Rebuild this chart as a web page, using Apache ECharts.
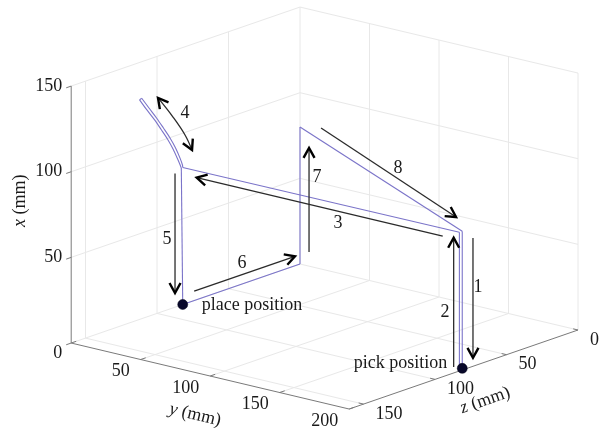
<!DOCTYPE html>
<html>
<head>
<meta charset="utf-8">
<script src="https://cdn.jsdelivr.net/npm/echarts@6/dist/echarts.min.js"></script>
<style>
  html, body { margin: 0; padding: 0; background: #ffffff; }
  #chart { width: 606px; height: 432px; }
</style>
</head>
<body>
<div id="chart"></div>
<script>
// ---- axis extents and tick values (mm) ----
const xTicks = [0, 50, 100, 150];
const yTicks = [0, 50, 100, 150, 200];
const zTicks = [0, 50, 100, 150];
const xRange = [0, 150];
const yRange = [0, 200];
const zRange = [0, 160];

// ---- trajectory, points are [x, y, z] in mm ----
const moveToPick   = [[80, 0, 0], [80, 198, 79]];                       // step 8
const descendPick  = [[80, 198, 79], [0, 198, 79]];                     // step 1
const ascendPick   = [[0, 198, 79], [0, 198, 81], [80, 198, 81]];       // step 2
const transfer     = [[80, 198, 81], [80, 0, 82]];                      // step 3
const rotateOut    = [[80, 0, 82], [81.5, 0, 82.2], [86, 0, 83.9], [93, 0, 87.1], [99.8, 0, 90.9],
                      [106.9, 0, 95.5], [114, 0, 100.2], [121.5, 0, 105.6], [128.7, 0, 110.7]];   // step 4
const rotateTurn   = [[128.7, 0, 110.7], [128.2, 0, 112.2]];
const rotateBack   = [[128.2, 0, 112.2], [121, 0, 107.2], [113.6, 0, 101.8], [106.5, 0, 97.1], [99.4, 0, 92.5],
                      [92.6, 0, 88.7], [85.8, 0, 85.5], [81.5, 0, 83.6], [80, 0, 83]];
const descendPlace = [[80, 0, 83], [0, 0, 82]];                         // step 5
const retreat      = [[0, 0, 82], [0, 0, 0]];                           // step 6
const rise         = [[0, 0, 0], [80, 0, 0]];                           // step 7

const pickPosition  = [0, 198, 79];
const placePosition = [0, 0, 82];

// ---- step arrows (3-D paths) and their numbers ----
const stepNames = ['1', '2', '3', '4', '5', '6', '7', '8'];
const stepArrows = [
  [[74, 198, 71.5], [4, 198, 71.5]],
  [[2.5, 198, 85], [78, 198, 85]],
  [[75.5, 186, 81], [75.5, 9, 81]],
  [[125.6, 0, 99.3], [111.4, 0, 88.8], [98.5, 0, 80.4], [88.3, 0, 75.5]],
  [[78, 0, 87.4], [8.3, 0, 87.4]],
  [[5.5, 0, 74], [5.5, 0, 3.5]],
  [[8.2, 6.5, 0], [69, 6.5, 0]],
  [[85, 20.8, 5.5], [85, 188.3, 73.9]]
];
const stepHeads = ['end', 'end', 'end', 'both', 'end', 'end', 'end', 'end'];
const stepLabelAt = [
  [44, 198, 68], [36, 198, 91], [68.6, 110.6, 81], [111, 0, 80.4],
  [41, 0, 93], [12, 0, 40.6], [53, 12.2, 0], [85, 103, 31.6]
];

// ---- orthographic view of the axes box ----
const view = {
  origin: [300, 264],      // screen position of (x=0, y=0, z=0)
  ex: [0, -1.713],         // screen step per mm of x (vertical)
  ey: [1.39, 0.33],        // screen step per mm of y
  ez: [-1.43, 0.494]       // screen step per mm of z
};
function project(p) {
  const [x, y, z] = p;
  return [
    view.origin[0] + x * view.ex[0] + y * view.ey[0] + z * view.ez[0],
    view.origin[1] + x * view.ex[1] + y * view.ey[1] + z * view.ez[1]
  ];
}

const FONT = 'Liberation Serif';
const FONT_SIZE = 18;
const TEXT_COLOR = '#1a1a1a';
const PATH_COLOR = '#7b74c9';
const GRID_COLOR = '#e8e8e8';
const AXIS_COLOR = '#7a7a7a';

// ---- box grid lines on floor and the two back walls ----
const [x0, x1] = xRange, [y0, y1] = yRange, [z0, z1] = zRange;
const gridSegs = [];
yTicks.filter(v => v < y1).forEach(v => gridSegs.push([[x0, v, z0], [x0, v, z1]]));
zTicks.forEach(v => gridSegs.push([[x0, y0, v], [x0, y1, v]]));
zTicks.forEach(v => gridSegs.push([[x0, y0, v], [x1, y0, v]]));
xTicks.filter(v => v > x0).forEach(v => gridSegs.push([[v, y0, z0], [v, y0, z1]]));
yTicks.filter(v => v > y0).forEach(v => gridSegs.push([[x0, v, z0], [x1, v, z0]]));
xTicks.filter(v => v > x0).forEach(v => gridSegs.push([[v, y0, z0], [v, y1, z0]]));

// ---- axis lines and tick marks ----
const axisSegs = [
  [[x0, y0, z1], [x1, y0, z1]],
  [[x0, y0, z1], [x0, y1, z1]],
  [[x0, y1, z0], [x0, y1, z1]]
];
yTicks.forEach(v => axisSegs.push([[x0, v, z1], [x0, v, z1 - 3.5]]));
zTicks.forEach(v => axisSegs.push([[x0, y1, v], [x0, y1 - 3.5, v]]));
xTicks.forEach(v => axisSegs.push([[v, y0, z1], [v, y0, z1 + 3.5]]));

function segData(segs) {
  return segs.map(s => project(s[0]).concat(project(s[1])));
}
function segSeries(segs, color, width, z) {
  return {
    type: 'custom', coordinateSystem: 'cartesian2d', silent: true, z: z,
    data: segData(segs),
    renderItem: function (params, api) {
      const a = api.coord([api.value(0), api.value(1)]);
      const b = api.coord([api.value(2), api.value(3)]);
      return { type: 'line', shape: { x1: a[0], y1: a[1], x2: b[0], y2: b[1] },
               style: { stroke: color, lineWidth: width } };
    }
  };
}
function pathSeries(points, smooth) {
  return {
    type: 'line', data: points.map(project), symbol: 'none', smooth: smooth ? 0.3 : false,
    silent: true, z: 3, animation: false,
    lineStyle: { color: PATH_COLOR, width: 1.1 }
  };
}

// ---- text items ----
const ay = Math.atan2(view.ey[1], view.ey[0]);
const az = Math.atan2(view.ez[1], -view.ez[0]);
const textItems = [];
xTicks.forEach(v => {
  const p = project([v, y0, z1]);
  textItems.push({ pos: [p[0] - 9, p[1] + (v === x0 ? 10 : 0)], text: String(v), align: 'right' });
});
yTicks.filter(v => v > y0).forEach(v => {
  const p = project([x0, v, z1]);
  textItems.push({ pos: [p[0] - 11, p[1] + 12], text: String(v), align: 'right' });
});
zTicks.forEach(v => {
  const p = project([x0, y1, v]);
  textItems.push({ pos: [p[0] + 12, p[1] + 10], text: String(v), align: 'left' });
});
(function () {
  const px = project([(x0 + x1) / 2 + 8, y0, z1]);
  textItems.push({ pos: [px[0] - 51, px[1]], text: '{i|x} (mm)', rotation: Math.PI / 2 });
  const py = project([x0, (y0 + y1) / 2, z1]);
  textItems.push({ pos: [py[0] - 15, py[1] + 39], text: '{i|y} (mm)', rotation: -ay });
  const pz = project([x0, y1, 88]);
  textItems.push({ pos: [pz[0] + 33, pz[1] + 27], text: '{i|z} (mm)', rotation: az });
})();
stepNames.forEach((n, i) => textItems.push({ pos: project(stepLabelAt[i]), text: n }));
(function () {
  const pp = project(placePosition);
  textItems.push({ pos: [pp[0] + 19, pp[1] + 1], text: 'place position', align: 'left' });
  const pk = project(pickPosition);
  textItems.push({ pos: [pk[0] - 15, pk[1] - 5], text: 'pick position', align: 'right' });
})();

function chevron(tip, prev) {
  let dx = tip[0] - prev[0], dy = tip[1] - prev[1];
  const len = Math.hypot(dx, dy) || 1;
  dx /= len; dy /= len;
  const bx = tip[0] - dx * 10, by = tip[1] - dy * 10;
  const nx = -dy * 5.5, ny = dx * 5.5;
  return {
    type: 'polyline',
    shape: { points: [[bx + nx, by + ny], tip, [bx - nx, by - ny]] },
    style: { stroke: '#000000', lineWidth: 2.4, fill: null, lineJoin: 'miter', lineCap: 'butt' }
  };
}

const chart = echarts.init(document.getElementById('chart'), null, { renderer: 'canvas' });
chart.setOption({
  animation: false,
  backgroundColor: '#ffffff',
  grid: { left: 0, right: 0, top: 0, bottom: 0 },
  xAxis: { type: 'value', min: 0, max: 606, show: false },
  yAxis: { type: 'value', min: 0, max: 432, inverse: true, show: false },
  series: [
    segSeries(gridSegs, GRID_COLOR, 1, 1),
    segSeries(axisSegs, AXIS_COLOR, 1, 2),
    pathSeries(moveToPick, false),
    pathSeries(descendPick, false),
    pathSeries(ascendPick, false),
    pathSeries(transfer, false),
    pathSeries(rotateOut, true),
    pathSeries(rotateTurn, false),
    pathSeries(rotateBack, true),
    pathSeries(descendPlace, false),
    pathSeries(retreat, false),
    pathSeries(rise, false),
    {
      type: 'custom', coordinateSystem: 'cartesian2d', silent: true, z: 4,
      data: stepArrows.map((a, i) => [i].concat(project(a[0]))),
      renderItem: function (params, api) {
        const i = params.dataIndex;
        const pts = stepArrows[i].map(p => api.coord(project(p)));
        const children = [{
          type: 'polyline',
          shape: { points: pts, smooth: pts.length > 2 ? 0.4 : 0 },
          style: { stroke: '#2b2b2b', lineWidth: 1.3, fill: null }
        }];
        const n = pts.length;
        children.push(chevron(pts[n - 1], pts[n - 2]));
        if (stepHeads[i] === 'both') children.push(chevron(pts[0], pts[1]));
        return { type: 'group', children: children };
      }
    },
    {
      type: 'scatter', silent: true, z: 5,
      data: [project(placePosition), project(pickPosition)],
      symbol: 'circle', symbolSize: 10,
      itemStyle: { color: '#08082a', opacity: 1, borderColor: '#000015', borderWidth: 0.5 }
    },
    {
      type: 'custom', coordinateSystem: 'cartesian2d', silent: true, z: 6,
      data: textItems.map(t => t.pos),
      renderItem: function (params, api) {
        const t = textItems[params.dataIndex];
        const p = api.coord([api.value(0), api.value(1)]);
        return {
          type: 'text', x: p[0], y: p[1], rotation: t.rotation || 0,
          style: {
            text: t.text, fontFamily: FONT, fontSize: FONT_SIZE, fill: TEXT_COLOR,
            align: t.align || 'center', verticalAlign: 'middle',
            rich: { i: { fontFamily: FONT, fontSize: FONT_SIZE, fontStyle: 'italic', fill: TEXT_COLOR } }
          }
        };
      }
    }
  ]
});
</script>
</body>
</html>
